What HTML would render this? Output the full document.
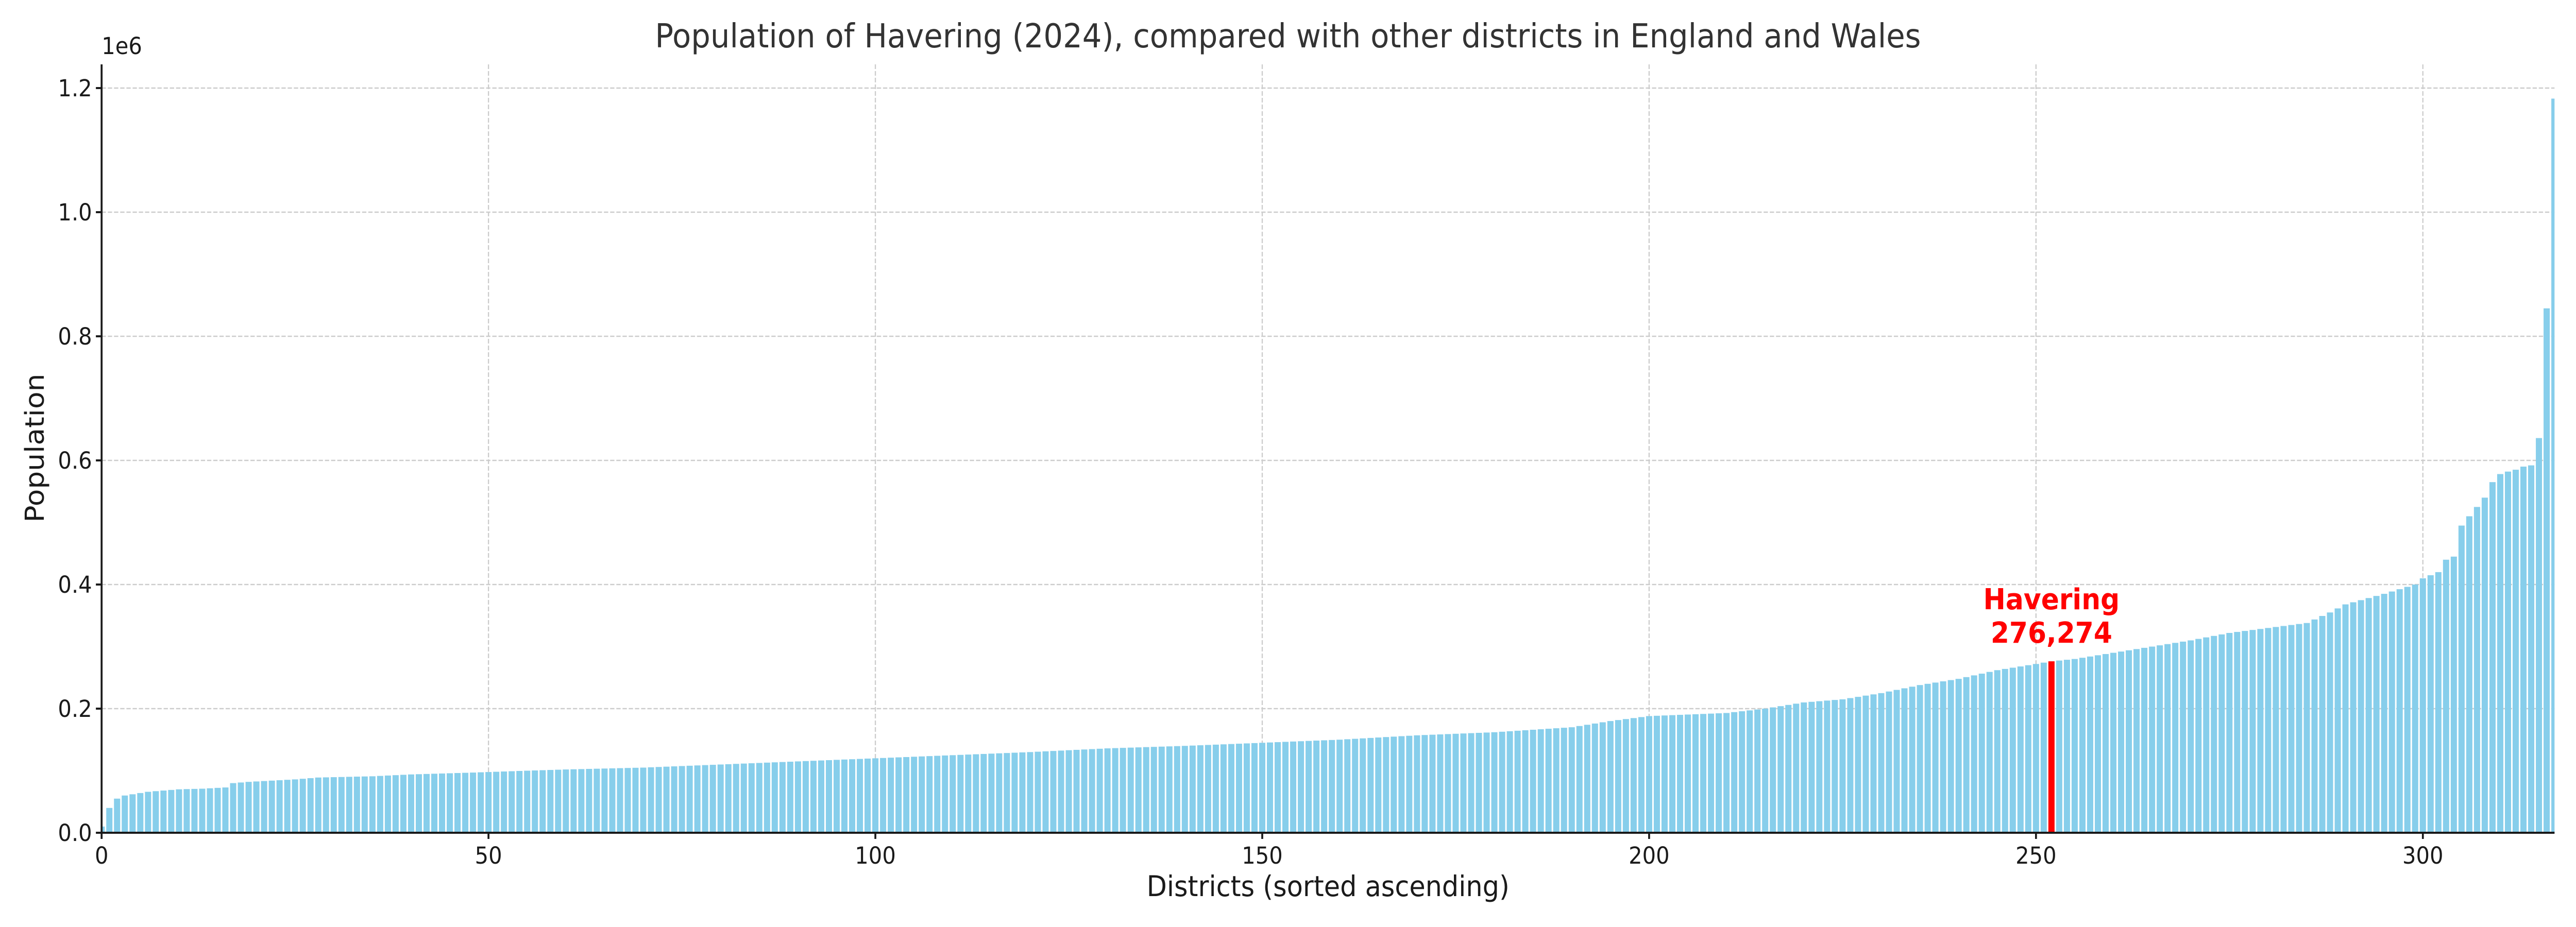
<!DOCTYPE html>
<html><head><meta charset="utf-8"><style>
html,body{margin:0;padding:0;background:#fff;width:100%;height:100%;overflow:hidden;}
svg{display:block;width:100vw;height:100vh;font-family:"DejaVu Sans","Liberation Sans",sans-serif;}
</style></head><body>
<svg id="s" viewBox="0 0 5400 1800" preserveAspectRatio="none" xmlns="http://www.w3.org/2000/svg"></svg>
<script>
const s=document.getElementById('s');
const L=213,R=5355,B=1617,T=125;
const xu=(5079-L)/300, yu=241/0.2e6;
const X=v=>L+v*xu, Y=v=>B-v*yu;
const kp=[[0,10],[1,40],[2,55],[3,60],[4,62],[5,64],[6,66],[8,68],[10,70],[13,71],[16,73],[17,80],[19,82],[22,84],[25,86],[28,89],[35,91],[40,94],[48,97],[55,100],[60,102],[70,105],[80,110],[90,115],[100,120],[110,125],[120,130],[130,136],[140,140],[150,145],[160,150],[170,157],[180,162],[190,170],[195,180],[200,188],[210,193],[215,200],[220,210],[225,215],[230,225],[235,238],[240,248],[245,262],[250,272],[252,276.274],[255,280],[260,290],[265,300],[270,310],[275,322],[280,330],[285,338],[288,355],[290,368],[295,385],[299,400],[300,410],[302,420],[303,440],[304,445],[305,495],[306,510],[307,525],[308,540],[309,565],[310,578],[311,582],[312,585],[313,590],[314,592],[315,636],[316,845],[317,1183]];
function val(i){for(let k=0;k<kp.length-1;k++){if(i>=kp[k][0]&&i<=kp[k+1][0]){const[a,va]=kp[k],[b,vb]=kp[k+1];return (va+(vb-va)*(i-a)/(b-a))*1000;}}return 0;}
let h='';
h+=`<clipPath id="c"><rect x="${L}" y="${T}" width="${R-L}" height="${B-T}"/></clipPath>`;
for(let t=0;t<=300;t+=50){h+=`<line x1="${X(t)}" y1="${T}" x2="${X(t)}" y2="${B}" stroke="#cccccc" stroke-width="2.5" stroke-dasharray="9,4"/>`;}
for(let k=0;k<=6;k++){const y=Y(k*0.2e6);h+=`<line x1="${L}" y1="${y}" x2="${R}" y2="${y}" stroke="#cccccc" stroke-width="2.5" stroke-dasharray="9,4"/>`;}
h+='<g clip-path="url(#c)">';
for(let i=0;i<=317;i++){const v=val(i);const c=i===252?'#ff0000':'#87ceeb';h+=`<rect x="${X(i-0.4)}" y="${Y(v)}" width="${0.8*xu}" height="${v*yu}" fill="${c}"/>`;}
h+='</g>';
h+=`<line x1="${L}" y1="${T}" x2="${L}" y2="${B+2}" stroke="#1a1a1a" stroke-width="4"/>`;
h+=`<line x1="${L-2}" y1="${B}" x2="${R}" y2="${B}" stroke="#1a1a1a" stroke-width="4"/>`;
for(let t=0;t<=300;t+=50){h+=`<line x1="${X(t)}" y1="${B}" x2="${X(t)}" y2="${B+12}" stroke="#1a1a1a" stroke-width="4"/><text x="${X(t)}" y="${B+60}" font-size="45" text-anchor="middle" fill="#1a1a1a">${t}</text>`;}
for(let k=0;k<=6;k++){const y=Y(k*0.2e6);h+=`<line x1="${L-12}" y1="${y}" x2="${L}" y2="${y}" stroke="#1a1a1a" stroke-width="4"/><text x="${L-20}" y="${y+16}" font-size="45" text-anchor="end" fill="#1a1a1a">${(k*0.2).toFixed(1)}</text>`;}
h+=`<text x="${L}" y="105" font-size="45" fill="#1a1a1a">1e6</text>`;
h+=`<text x="2700" y="92" font-size="64" text-anchor="middle" fill="#333">Population of Havering (2024), compared with other districts in England and Wales</text>`;
h+=`<text x="${(L+R)/2}" y="1740" font-size="55" text-anchor="middle" fill="#1a1a1a">Districts (sorted ascending)</text>`;
h+=`<text transform="translate(92,870) rotate(-90)" font-size="55" text-anchor="middle" fill="#1a1a1a">Population</text>`;
h+=`<text x="${X(252)}" y="1183" font-size="56" font-weight="bold" text-anchor="middle" fill="#ff0000">Havering</text>`;
h+=`<text x="${X(252)}" y="1248" font-size="56" font-weight="bold" text-anchor="middle" fill="#ff0000">276,274</text>`;
s.innerHTML=h;
</script>
</body></html>
